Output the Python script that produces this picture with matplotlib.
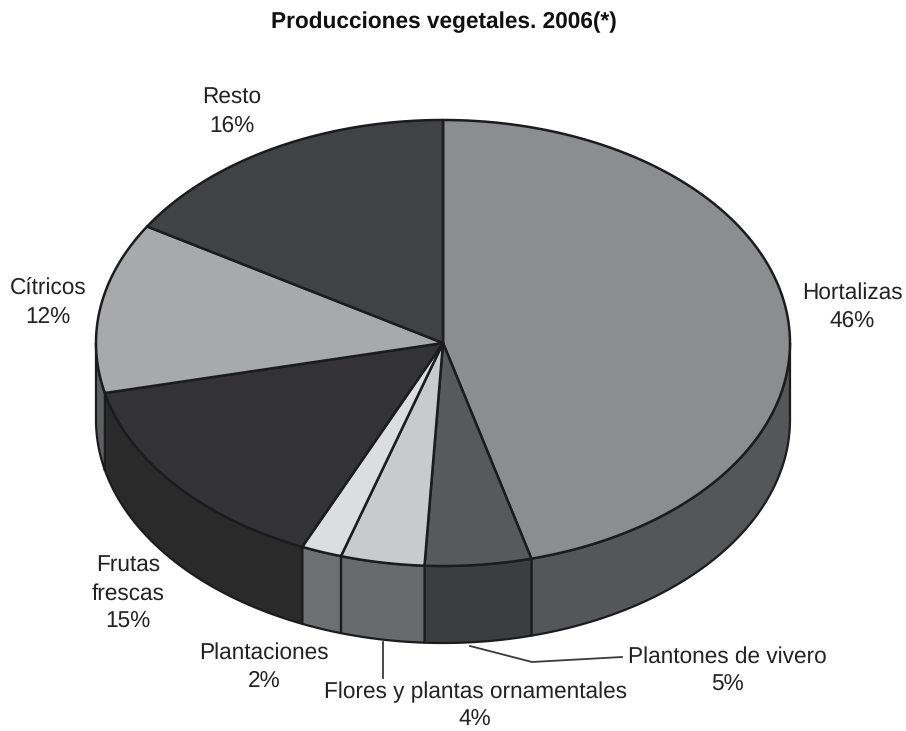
import matplotlib
matplotlib.use("Agg")
import matplotlib.pyplot as plt
from matplotlib.patches import Polygon
import numpy as np

plt.rcParams['font.family'] = ['Liberation Sans', 'DejaVu Sans']
plt.rcParams['text.hinting'] = 'no_hinting'

# slices clockwise from 12 o'clock, shares
categorias = ["Hortalizas", "Plantones de vivero", "Flores y plantas ornamentales",
              "Plantaciones", "Frutas\nfrescas", "Cítricos", "Resto"]
valores = [45.9, 4.95, 3.9, 1.9, 14.75, 12.35, 16.25]
col_top = ["#8c8d90", "#58595b", "#c9cacc", "#dcddde", "#333335", "#a8a9ab", "#414245"]
col_side = ["#555658", "#3c3d3f", "#696a6d", "#6e6f72", "#2a2a2b", "#5f6062", "#333335"]

# pie geometry in pixels
cx, cy = 443, 343
rx, ry = 347, 223
depth = 77
borde = "#1c1c1e"


def elipse(t):
    return cx + rx * np.sin(t), cy - ry * np.cos(t)


fig = plt.figure(figsize=(9.06, 7.31), dpi=100)
ax = fig.add_axes([0, 0, 1, 1])
ax.set_xlim(0, 906)
ax.set_ylim(731, 0)
ax.axis("off")

limites = np.cumsum([0] + valores) / sum(valores) * 2 * np.pi

# side walls first, only the front half of the pie shows
for i in range(len(valores)):
    a = max(limites[i], np.pi / 2)
    b = min(limites[i + 1], 3 * np.pi / 2)
    if a >= b:
        continue
    t = np.linspace(a, b, 80)
    x, y = elipse(t)
    pts = np.r_[np.c_[x, y], np.c_[x[::-1], y[::-1] + depth]]
    ax.add_patch(Polygon(pts, closed=True, fc=col_side[i], ec=borde, lw=1.6, joinstyle="round", zorder=2))

# top faces
for i in range(len(valores)):
    t = np.linspace(limites[i], limites[i + 1], 120)
    x, y = elipse(t)
    pts = np.r_[[[cx, cy]], np.c_[x, y]]
    ax.add_patch(Polygon(pts, closed=True, fc=col_top[i], ec=borde, lw=1.8, joinstyle="round", zorder=3))

# leader lines
ax.plot([383, 383], [642, 678], color="#3a3a3c", lw=1.3, zorder=1)
ax.plot([470, 532, 622], [646, 662, 657], color="#3a3a3c", lw=1.3, zorder=1)

ax.text(444, 22, "Producciones vegetales. 2006(*)", ha="center", va="center",
        fontsize=16.3, fontweight="bold", color="#111111")

pos_etiquetas = [(852, 307), (727, 671), (475, 706), (264, 667), (128, 594), (48, 303), (232, 112)]
for (x, y), nombre, v in zip(pos_etiquetas, categorias, valores):
    ax.text(x, y, f"{nombre}\n{round(v)}%", ha="center", va="center", fontsize=16.3,
            color="#222222", linespacing=1.38)

fig.savefig("out.png", dpi=100)
